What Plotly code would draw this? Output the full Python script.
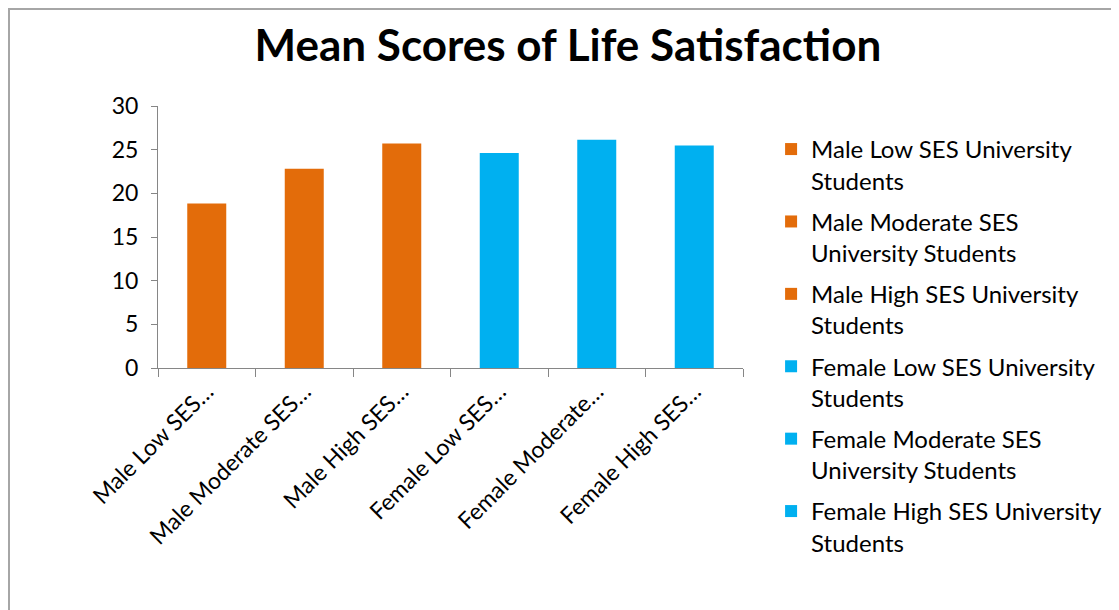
import plotly.graph_objects as go

categories = [
    "Male Low SES University Students",
    "Male Moderate SES University Students",
    "Male High SES University Students",
    "Female Low SES University Students",
    "Female Moderate SES University Students",
    "Female High SES University Students",
]
legend_names = [
    "Male Low SES University<br>Students",
    "Male Moderate SES<br>University Students",
    "Male High SES University<br>Students",
    "Female Low SES University<br>Students",
    "Female Moderate SES<br>University Students",
    "Female High SES University<br>Students",
]
tick_labels = [
    "Male Low SES…",
    "Male Moderate SES…",
    "Male High SES…",
    "Female Low SES…",
    "Female Moderate…",
    "Female High SES…",
]
values = [18.84, 22.81, 25.72, 24.61, 26.14, 25.49]
colors = ["#E36C0A", "#E36C0A", "#E36C0A", "#00B0F0", "#00B0F0", "#00B0F0"]

FONT = "Lato, 'Open Sans', sans-serif"

W, H = 1111, 602
L, T, PW, PH = 150, 98, 585, 262

fig = go.Figure()
for i in range(len(categories)):
    fig.add_trace(go.Bar(
        x=[categories[i]], y=[values[i]], name=legend_names[i],
        marker=dict(color=colors[i], line=dict(width=0)),
        width=0.4, legendgroup=str(i),
    ))

fig.update_layout(
    width=W, height=H,
    barmode="overlay",
    plot_bgcolor="white", paper_bgcolor="white",
    margin=dict(l=L, r=W - L - PW, t=T, b=H - T - PH, autoexpand=False),
    font=dict(family=FONT, color="black", size=22),
    title=dict(text="<b>Mean Scores of Life Satisfaction</b>",
               font=dict(family=FONT, size=44, color="black"),
               x=0.504, xanchor="center", y=1 - 38 / H, yanchor="middle"),
    legend=dict(x=1.048, xanchor="left", y=0.92, yanchor="top",
                font=dict(family=FONT, size=24, color="black"),
                tracegroupgap=7, maxheight=590, valign="top",
                bgcolor="rgba(0,0,0,0)"),
    xaxis=dict(categoryorder="array", categoryarray=categories,
               tickmode="array", tickvals=categories, ticktext=tick_labels,
               tickangle=-45, tickson="boundaries", ticks="outside", ticklen=8,
               tickcolor="#868686", showline=True, linecolor="#868686", linewidth=1,
               showgrid=False, tickfont=dict(family=FONT, size=23, color="black")),
    yaxis=dict(range=[0, 30], tickvals=[0, 5, 10, 15, 20, 25, 30],
               ticks="outside", ticklen=6, tickcolor="#868686",
               showline=True, linecolor="#868686", linewidth=1,
               showgrid=False, zeroline=False, ticklabelstandoff=8,
               tickfont=dict(family=FONT, size=23, color="black")),
    shapes=[dict(type="rect", xref="paper", yref="paper",
                 x0=(1 - L) / PW, x1=3, y0=-3, y1=(T + PH - 1) / PH,
                 line=dict(color="#A6A6A6", width=2), fillcolor="rgba(0,0,0,0)",
                 layer="below")],
)

fig.write_html("out.html")
